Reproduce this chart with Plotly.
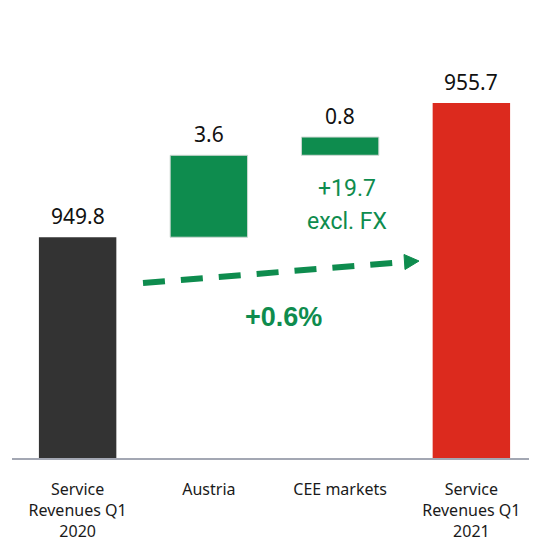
import plotly.graph_objects as go

categories = ["Service<br>Revenues Q1<br>2020", "Austria", "CEE markets", "Service<br>Revenues Q1<br>2021"]
values = [949.8, 3.6, 0.8, 955.7]
labels = ["949.8", "3.6", "0.8", "955.7"]
measures = ["absolute", "relative", "relative", "absolute"]
colors = ["#333333", "#0e8c4e", "#0e8c4e", "#dc2a1e"]
axis_base = 940.1
axis_top = 959.87

# compute bar bases / tops from the waterfall logic
bases, heights, tops = [], [], []
running = 0.0
for v, m in zip(values, measures):
    if m == "absolute":
        b = axis_base
        h = v - axis_base
        running = v
    else:
        b = running
        h = v
        running = running + v
    bases.append(b)
    heights.append(h)
    tops.append(b + h)

xs = list(range(len(categories)))

fig = go.Figure()
fig.add_trace(go.Bar(
    x=xs, y=heights, base=bases,
    marker=dict(color=colors, line=dict(color=["rgba(0,0,0,0)", "#cfd8d3", "#cfd8d3", "rgba(0,0,0,0)"], width=1)),
    width=0.59, hoverinfo="skip",
))

annotations = []
for x, t, lab in zip(xs, tops, labels):
    annotations.append(dict(x=x, y=t, xref="x", yref="y", text=lab, showarrow=False,
                            xanchor="center", yanchor="bottom", yshift=5,
                            font=dict(family="Noto Sans", size=21, color="#111111")))

green = "#0e8c4e"
OFF = 8  # page body margin
W, H, ML, MT, PH = 529, 537, 4, 0, 450
PW = W - ML


def px(x):
    return (x - OFF - ML) / PW


def py(y):
    return (MT + PH - (y - OFF)) / PH


annotations += [
    dict(x=px(347), y=py(188), xref="paper", yref="paper", text="+19.7", showarrow=False,
         xanchor="center", yanchor="middle",
         font=dict(family="Roboto", size=23, color=green)),
    dict(x=px(347), y=py(222), xref="paper", yref="paper", text="excl. FX", showarrow=False,
         xanchor="center", yanchor="middle",
         font=dict(family="Roboto", size=23, color=green)),
    dict(x=px(283), y=py(317), xref="paper", yref="paper", text="<b>+0.6%</b>", showarrow=False,
         xanchor="center", yanchor="middle",
         font=dict(family="Arial, Liberation Sans", size=27, color=green)),
]

shapes = [
    dict(type="line", xref="paper", yref="paper", x0=px(143), y0=py(283), x1=px(405), y1=py(262),
         line=dict(color=green, width=6, dash="22px,16px")),
    dict(type="path", xref="paper", yref="paper",
         path=f"M {px(404)} {py(254.5)} L {px(419)} {py(261)} L {px(405)} {py(269.5)} Z",
         fillcolor=green, line=dict(color=green, width=1)),
]

fig.update_layout(
    width=W, height=H,
    margin=dict(l=ML, r=0, t=MT, b=H - MT - PH),
    plot_bgcolor="white", paper_bgcolor="white",
    showlegend=False,
    annotations=annotations,
    shapes=shapes,
    xaxis=dict(tickmode="array", tickvals=xs, ticktext=categories, range=[-0.5, 3.5],
               showline=True, linecolor="#a3a7b3", linewidth=2, showgrid=False, zeroline=False,
               ticks="outside", ticklen=16, tickcolor="rgba(0,0,0,0)", automargin=False,
               tickfont=dict(family="Noto Sans", size=16, color="#1a1a1a")),
    yaxis=dict(range=[axis_base, axis_top], visible=False, showgrid=False, zeroline=False),
)

fig.write_html("out.html")
